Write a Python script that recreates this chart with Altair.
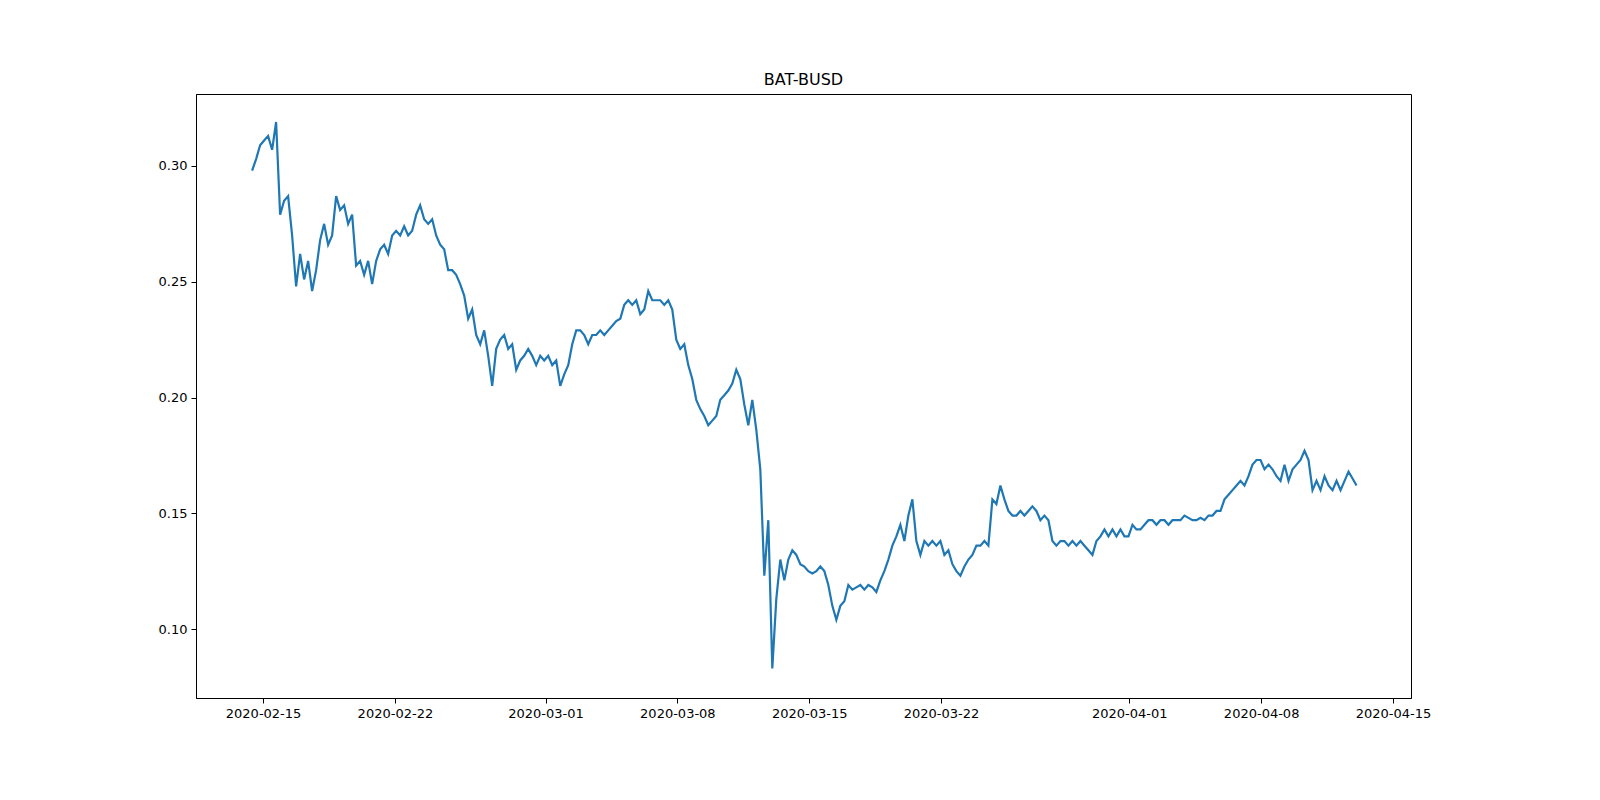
import pandas as pd
import altair as alt

# BAT-BUSD price, one reading every 306 minutes
start = "2020-02-14 10:00"
prices = [
    .298, .303, .309, .311, .313, .307, .319, .279, .285, .287, .270, .248, .262, .251, .259, .246,
    .255, .268, .275, .266, .270, .287, .281, .283, .275, .279, .257, .259, .253, .259, .249, .259,
    .264, .266, .262, .270, .272, .270, .274, .270, .272, .279, .283, .277, .275, .277, .270, .266,
    .264, .255, .255, .253, .249, .244, .234, .238, .227, .223, .229, .218, .205, .221, .225, .227,
    .221, .223, .212, .216, .218, .221, .218, .214, .218, .216, .218, .214, .216, .205, .210, .214,
    .223, .229, .229, .227, .223, .227, .227, .229, .227, .229, .231, .233, .234, .240, .242, .240,
    .242, .236, .238, .246, .242, .242, .242, .240, .242, .238, .225, .221, .223, .214, .208, .199,
    .195, .192, .188, .190, .192, .199, .201, .203, .206, .212, .208, .197, .188, .199, .186, .169,
    .123, .147, .083, .113, .130, .121, .130, .134, .132, .128, .127, .125, .124, .125, .127, .125,
    .119, .110, .104, .110, .112, .119, .117, .118, .119, .117, .119, .118, .116, .121, .125, .130,
    .136, .140, .145, .138, .149, .156, .138, .132, .138, .136, .138, .136, .138, .132, .134, .128,
    .125, .123, .127, .130, .132, .136, .136, .138, .136, .156, .154, .162, .156, .151, .149, .149,
    .151, .149, .151, .153, .151, .147, .149, .147, .138, .136, .138, .138, .136, .138, .136, .138,
    .136, .134, .132, .138, .140, .143, .140, .143, .140, .143, .140, .140, .145, .143, .143, .145,
    .147, .147, .145, .147, .147, .145, .147, .147, .147, .149, .148, .147, .147, .148, .147, .149,
    .149, .151, .151, .156, .158, .160, .162, .164, .162, .166, .171, .173, .173, .169, .171, .169,
    .166, .164, .171, .164, .169, .171, .173, .177, .173, .160, .164, .160, .166, .162, .160, .164,
    .160, .164, .168, .165, .162,
]
tick_dates = ["2020-02-15", "2020-02-22", "2020-03-01", "2020-03-08", "2020-03-15",
              "2020-03-22", "2020-04-01", "2020-04-08", "2020-04-15"]

times = pd.date_range(start, periods=len(prices), freq="306min")
df = pd.DataFrame({"time": times.strftime("%Y-%m-%dT%H:%M:%S"), "price": prices})

ticks = [alt.DateTime(year=int(d[:4]), month=int(d[5:7]), date=int(d[8:])) for d in tick_dates]

chart = alt.Chart(df).mark_line(color="#1f77b4", strokeWidth=2.2).encode(
    x=alt.X("time:T", title=None,
            scale=alt.Scale(domain=["2020-02-11T10:30:00", "2020-04-15T23:00:00"], nice=False),
            axis=alt.Axis(values=ticks, format="%Y-%m-%d", grid=False, labelFlush=False)),
    y=alt.Y("price:Q", title=None,
            scale=alt.Scale(domain=[0.0702, 0.3311], nice=False, zero=False),
            axis=alt.Axis(values=[0.10, 0.15, 0.20, 0.25, 0.30], format=".2f", grid=False)),
).properties(
    width=1215, height=604,
    title=alt.TitleParams("BAT-BUSD", fontSize=16, fontWeight="normal", font="DejaVu Sans",
                          offset=6, color="black"),
    autosize=alt.AutoSizeParams(type="none"),
    padding={"left": 188, "top": 86, "right": 170, "bottom": 86},
).configure_view(stroke="black", strokeWidth=1).configure_axis(
    domainColor="black", tickColor="black", labelColor="black", labelFont="DejaVu Sans",
    labelFontSize=13, tickSize=5, labelPadding=4,
)

chart.save("out.html", embed_options={"renderer": "svg", "actions": False})
